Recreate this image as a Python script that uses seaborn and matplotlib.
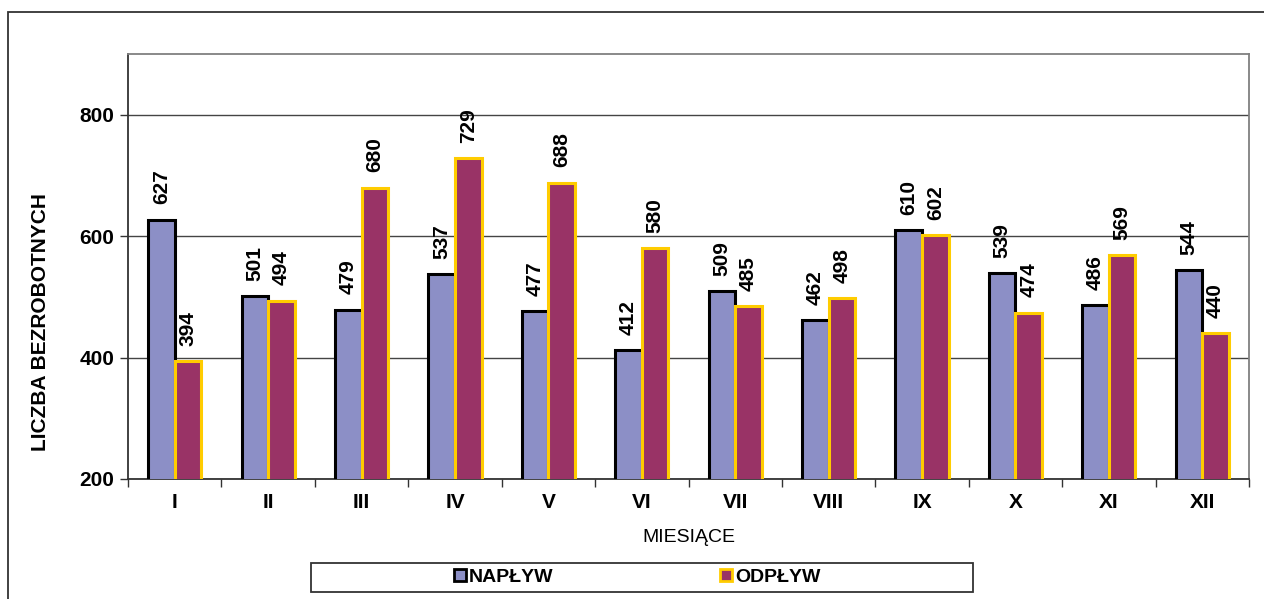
import pandas as pd
import matplotlib
matplotlib.use("Agg")
import matplotlib.pyplot as plt
from matplotlib.patches import Rectangle, Patch
import seaborn as sns

# =============================================================================
# DATA
# =============================================================================
months = ["I", "II", "III", "IV", "V", "VI", "VII", "VIII", "IX", "X", "XI", "XII"]
naplyw = [627, 501, 479, 537, 477, 412, 509, 462, 610, 539, 486, 544]
odplyw = [394, 494, 680, 729, 688, 580, 485, 498, 602, 474, 569, 440]
series = ["NAPŁYW", "ODPŁYW"]
y_ticks = [200, 400, 600, 800]

FACE = {"NAPŁYW": "#8C8FC6", "ODPŁYW": "#993366"}
EDGE = {"NAPŁYW": "#000000", "ODPŁYW": "#FFCC00"}

df = pd.DataFrame({
    "miesiac": months * 2,
    "seria": [series[0]] * len(months) + [series[1]] * len(months),
    "wartosc": naplyw + odplyw,
})

# =============================================================================
# PLOT
# =============================================================================
sns.set_theme(style="white")
plt.rcParams["font.family"] = ["Liberation Sans", "DejaVu Sans"]
plt.rcParams["text.color"] = "black"
plt.rcParams["axes.labelcolor"] = "black"
plt.rcParams["xtick.color"] = "black"
plt.rcParams["ytick.color"] = "black"

W, H = 1264, 599
fig = plt.figure(figsize=(W / 100, H / 100), dpi=100)
ax = fig.add_axes([128 / W, 1 - 479 / H, (1249 - 128) / W, (479 - 54) / H])

# outer chart border (only left and top edges visible)
fig.patches.append(Rectangle((8 / W, -0.1), 1.2, 1 - 12 / H + 0.1,
                             transform=fig.transFigure, fill=False,
                             edgecolor="#333333", linewidth=1.3))

sns.barplot(data=df, x="miesiac", y="wartosc", hue="seria", order=months,
            hue_order=series, palette=FACE, width=0.57, saturation=1,
            legend=False, ax=ax, zorder=3)

for name, cont in zip(series, ax.containers):
    for bar in cont:
        bar.set_edgecolor(EDGE[name])
        bar.set_linewidth(2.2)
    ax.bar_label(cont, labels=[f"{v:.0f}" for v in cont.datavalues],
                 rotation=90, padding=11, fontsize=15, fontweight="bold")

ax.set_ylim(200, 900)
ax.set_yticks(y_ticks)
ax.set_xlim(-0.5, len(months) - 0.5)
ax.yaxis.grid(True, color="#444444", linewidth=1)
ax.set_axisbelow(True)

for s in ["top", "right"]:
    ax.spines[s].set_color("#808080")
    ax.spines[s].set_linewidth(1.3)
for s in ["left", "bottom"]:
    ax.spines[s].set_color("#333333")
    ax.spines[s].set_linewidth(1.3)

ax.tick_params(axis="y", length=6, width=1, direction="out", left=True,
               labelsize=15, pad=4, color="#333333")
ax.tick_params(axis="x", which="major", length=0, labelsize=15, pad=10)
for lab in ax.get_yticklabels() + ax.get_xticklabels():
    lab.set_fontweight("bold")
ax.set_xticks([i - 0.5 for i in range(len(months) + 1)], minor=True)
ax.tick_params(axis="x", which="minor", length=6, width=1, bottom=True,
               direction="out", color="#333333")

ax.set_xlabel("MIESIĄCE", fontsize=14, labelpad=12)
ax.set_ylabel("LICZBA BEZROBOTNYCH", fontsize=15, fontweight="bold")
ax.yaxis.set_label_coords(-0.07, 0.37)

# legend box below the chart
fig.patches.append(Rectangle((311 / W, 1 - 592 / H), (973 - 311) / W, 29 / H,
                             transform=fig.transFigure, fill=False,
                             edgecolor="#333333", linewidth=1.3))
handles = [Patch(facecolor=FACE[n], edgecolor=EDGE[n], linewidth=2, label=n)
           for n in series]
leg = fig.legend(handles=handles, ncol=2, frameon=False,
                 loc="center", bbox_to_anchor=(637 / W, 1 - 577.5 / H),
                 prop={"size": 14, "weight": "bold"},
                 handlelength=0.6, handleheight=0.6, handletextpad=0.15,
                 columnspacing=8.6)

fig.savefig("out.png", dpi=100, facecolor="white")
